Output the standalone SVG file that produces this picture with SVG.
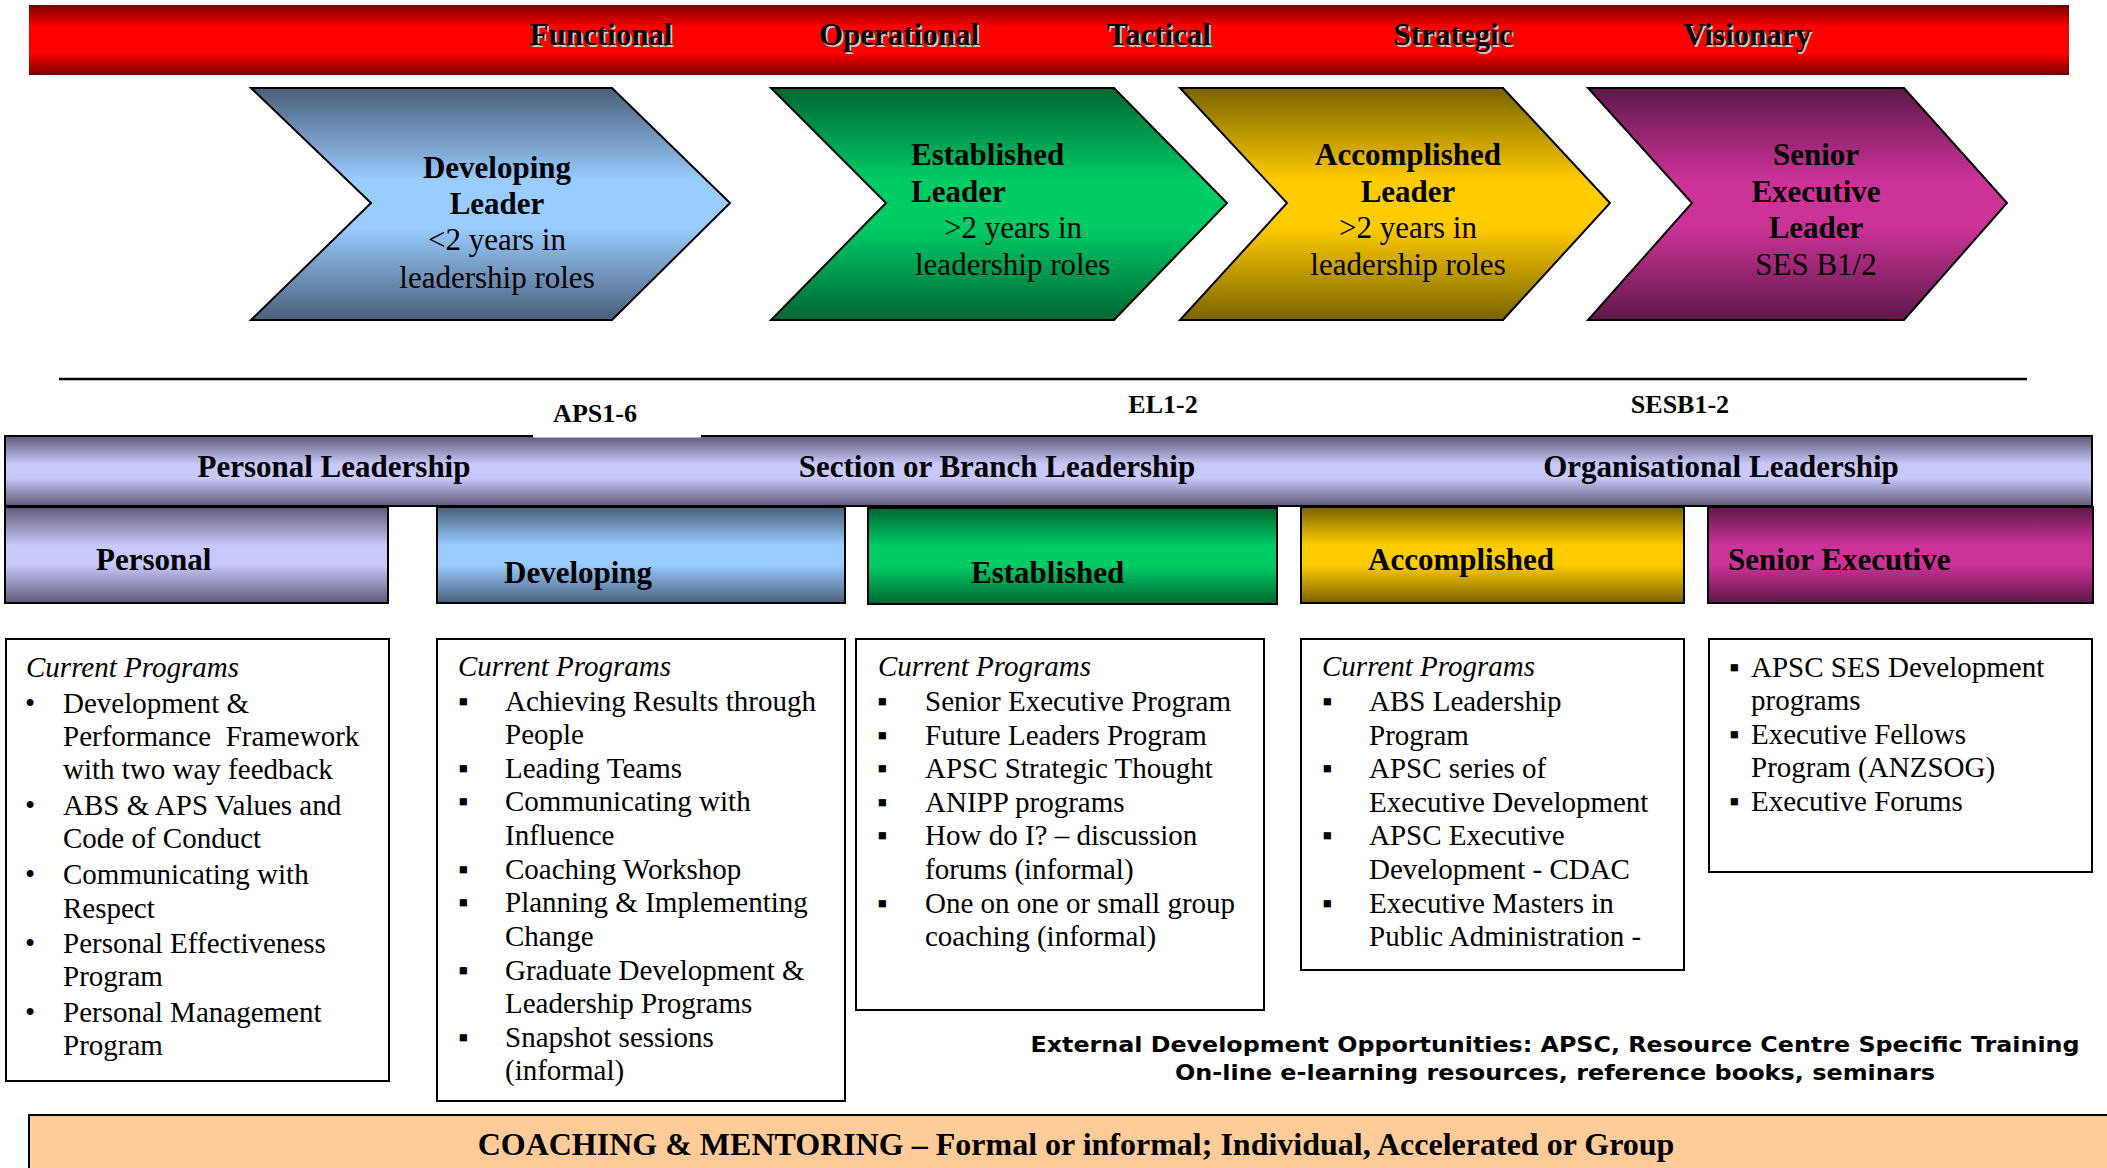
<svg xmlns="http://www.w3.org/2000/svg" width="2107" height="1168" viewBox="0 0 2107 1168">
<style>
text{font-family:"Liberation Serif","Times New Roman",serif;fill:#000}
.hd{font-size:31px;font-weight:bold;text-anchor:middle}
.hs{font-size:31px;font-weight:bold;text-anchor:middle;fill:#c8c8c8}
.cb{font-size:31px;font-weight:bold}
.cn{font-size:31px}
.mid{text-anchor:middle}
.lab{font-size:26px;font-weight:bold;text-anchor:middle}
.box{fill:#fff;stroke:#000;stroke-width:2}
.bt{font-size:29px}
.it{font-size:29px;font-style:italic}
.ext{font-family:"DejaVu Sans","Verdana",sans-serif;font-size:22px;font-weight:bold;text-anchor:middle}
.shape{stroke:#000;stroke-width:2}
</style>
<defs>
<linearGradient id="gRed" x1="0" y1="0" x2="0" y2="1"><stop offset="0" stop-color="#780000"/><stop offset="0.32" stop-color="#ff0000"/><stop offset="0.68" stop-color="#ff0000"/><stop offset="1" stop-color="#780000"/></linearGradient>
<linearGradient id="gLav" x1="0" y1="0" x2="0" y2="1"><stop offset="0" stop-color="#5e5a78"/><stop offset="0.4" stop-color="#c8c8fa"/><stop offset="0.6" stop-color="#c8c8fa"/><stop offset="1" stop-color="#5e5a78"/></linearGradient>
<linearGradient id="gBlue" x1="0" y1="0" x2="0" y2="1"><stop offset="0" stop-color="#4a5f7a"/><stop offset="0.4" stop-color="#99ccff"/><stop offset="0.6" stop-color="#99ccff"/><stop offset="1" stop-color="#4a5f7a"/></linearGradient>
<linearGradient id="gGreen" x1="0" y1="0" x2="0" y2="1"><stop offset="0" stop-color="#006633"/><stop offset="0.4" stop-color="#00cc66"/><stop offset="0.6" stop-color="#00cc66"/><stop offset="1" stop-color="#006633"/></linearGradient>
<linearGradient id="gYel" x1="0" y1="0" x2="0" y2="1"><stop offset="0" stop-color="#7a6300"/><stop offset="0.4" stop-color="#ffcc00"/><stop offset="0.6" stop-color="#ffcc00"/><stop offset="1" stop-color="#7a6300"/></linearGradient>
<linearGradient id="gMag" x1="0" y1="0" x2="0" y2="1"><stop offset="0" stop-color="#5e1848"/><stop offset="0.4" stop-color="#cc3399"/><stop offset="0.6" stop-color="#cc3399"/><stop offset="1" stop-color="#5e1848"/></linearGradient>
</defs>
<rect width="2107" height="1168" fill="#fff"/>

<g id="header-bar">
<rect x="29" y="5" width="2040" height="70" fill="url(#gRed)"/>
<text class="hs" x="603" y="47">Functional</text><text class="hd" x="601" y="45">Functional</text>
<text class="hs" x="901" y="47">Operational</text><text class="hd" x="899" y="45">Operational</text>
<text class="hs" x="1161" y="47">Tactical</text><text class="hd" x="1159" y="45">Tactical</text>
<text class="hs" x="1455" y="47">Strategic</text><text class="hd" x="1453" y="45">Strategic</text>
<text class="hs" x="1749" y="47">Visionary</text><text class="hd" x="1747" y="45">Visionary</text>
</g>

<g id="chevron-developing">
<polygon class="shape" points="251,88 612,88 730,203 612,320 251,320 371,203" fill="url(#gBlue)"/>
<text class="cb mid" x="497" y="178">Developing</text>
<text class="cb mid" x="497" y="214">Leader</text>
<text class="cn mid" x="497" y="250">&lt;2 years in</text>
<text class="cn mid" x="497" y="288">leadership roles</text>
</g>
<g id="chevron-established">
<polygon class="shape" points="771,88 1114,88 1227,203 1114,320 771,320 886,203" fill="url(#gGreen)"/>
<text class="cb" x="911" y="165">Established</text>
<text class="cb" x="911" y="202">Leader</text>
<text class="cn" x="944" y="238">&gt;2 years in</text>
<text class="cn" x="915" y="275">leadership roles</text>
</g>
<g id="chevron-accomplished">
<polygon class="shape" points="1180,88 1503,88 1610,203 1503,320 1180,320 1287,203" fill="url(#gYel)"/>
<text class="cb mid" x="1408" y="165">Accomplished</text>
<text class="cb mid" x="1408" y="202">Leader</text>
<text class="cn mid" x="1408" y="238">&gt;2 years in</text>
<text class="cn mid" x="1408" y="275">leadership roles</text>
</g>
<g id="chevron-senior">
<polygon class="shape" points="1588,88 1904,88 2007,203 1904,320 1588,320 1692,203" fill="url(#gMag)"/>
<text class="cb mid" x="1816" y="165">Senior</text>
<text class="cb mid" x="1816" y="202">Executive</text>
<text class="cb mid" x="1816" y="238">Leader</text>
<text class="cn mid" x="1816" y="275">SES B1/2</text>
</g>

<g id="divider">
<line x1="59" y1="379" x2="2027" y2="379" stroke="#000" stroke-width="2.5"/>
</g>

<g id="band">
<rect class="shape" x="5" y="436" width="2087" height="70" fill="url(#gLav)"/>
<rect x="533" y="400" width="168" height="37.5" fill="#fff"/>
<text class="lab" x="595" y="422">APS1-6</text>
<text class="lab" x="1163" y="413">EL1-2</text>
<text class="lab" x="1680" y="413">SESB1-2</text>
<text class="cb mid" x="334" y="477">Personal Leadership</text>
<text class="cb mid" x="997" y="477">Section or Branch Leadership</text>
<text class="cb mid" x="1721" y="477">Organisational Leadership</text>
</g>

<g id="level-personal">
<rect class="shape" x="5" y="507" width="383" height="96" fill="url(#gLav)"/>
<text class="cb" x="96" y="570">Personal</text>
</g>
<g id="level-developing">
<rect class="shape" x="437" y="507" width="408" height="96" fill="url(#gBlue)"/>
<text class="cb" x="504" y="583">Developing</text>
</g>
<g id="level-established">
<rect class="shape" x="868" y="508" width="409" height="96" fill="url(#gGreen)"/>
<text class="cb" x="971" y="583">Established</text>
</g>
<g id="level-accomplished">
<rect class="shape" x="1301" y="507" width="383" height="96" fill="url(#gYel)"/>
<text class="cb" x="1368" y="570">Accomplished</text>
</g>
<g id="level-senior">
<rect class="shape" x="1708" y="507" width="385" height="96" fill="url(#gMag)"/>
<text class="cb" x="1728" y="570">Senior Executive</text>
</g>

<g id="programs-personal">
<rect class="box" x="6" y="639" width="383" height="442"/>
<text class="it" x="26" y="677">Current Programs</text>
<text class="bt" x="25" y="713">•</text>
<text class="bt" x="63" y="713">Development &amp;</text>
<text class="bt" x="63" y="746">Performance&#160; Framework</text>
<text class="bt" x="63" y="779">with two way feedback</text>
<text class="bt" x="25" y="815">•</text>
<text class="bt" x="63" y="815">ABS &amp; APS Values and</text>
<text class="bt" x="63" y="848">Code of Conduct</text>
<text class="bt" x="25" y="884">•</text>
<text class="bt" x="63" y="884">Communicating with</text>
<text class="bt" x="63" y="918">Respect</text>
<text class="bt" x="25" y="953">•</text>
<text class="bt" x="63" y="953">Personal Effectiveness</text>
<text class="bt" x="63" y="986">Program</text>
<text class="bt" x="25" y="1022">•</text>
<text class="bt" x="63" y="1022">Personal Management</text>
<text class="bt" x="63" y="1055">Program</text>
</g>

<g id="programs-developing">
<rect class="box" x="437" y="639" width="408" height="462"/>
<text class="it" x="458" y="676">Current Programs</text>
<text class="bt" x="458" y="711">▪</text><text class="bt" x="505" y="711">Achieving Results through</text>
<text class="bt" x="505" y="744">People</text>
<text class="bt" x="458" y="778">▪</text><text class="bt" x="505" y="778">Leading Teams</text>
<text class="bt" x="458" y="811">▪</text><text class="bt" x="505" y="811">Communicating with</text>
<text class="bt" x="505" y="845">Influence</text>
<text class="bt" x="458" y="879">▪</text><text class="bt" x="505" y="879">Coaching Workshop</text>
<text class="bt" x="458" y="912">▪</text><text class="bt" x="505" y="912">Planning &amp; Implementing</text>
<text class="bt" x="505" y="946">Change</text>
<text class="bt" x="458" y="980">▪</text><text class="bt" x="505" y="980">Graduate Development &amp;</text>
<text class="bt" x="505" y="1013">Leadership Programs</text>
<text class="bt" x="458" y="1047">▪</text><text class="bt" x="505" y="1047">Snapshot sessions</text>
<text class="bt" x="505" y="1080">(informal)</text>
</g>

<g id="programs-established">
<rect class="box" x="856" y="639" width="408" height="371"/>
<text class="it" x="878" y="676">Current Programs</text>
<text class="bt" x="877" y="711">▪</text><text class="bt" x="925" y="711">Senior Executive Program</text>
<text class="bt" x="877" y="745">▪</text><text class="bt" x="925" y="745">Future Leaders Program</text>
<text class="bt" x="877" y="778">▪</text><text class="bt" x="925" y="778">APSC Strategic Thought</text>
<text class="bt" x="877" y="812">▪</text><text class="bt" x="925" y="812">ANIPP programs</text>
<text class="bt" x="877" y="845">▪</text><text class="bt" x="925" y="845">How do I? – discussion</text>
<text class="bt" x="925" y="879">forums (informal)</text>
<text class="bt" x="877" y="913">▪</text><text class="bt" x="925" y="913">One on one or small group</text>
<text class="bt" x="925" y="946">coaching (informal)</text>
</g>

<g id="programs-accomplished">
<rect class="box" x="1301" y="639" width="383" height="331"/>
<text class="it" x="1322" y="676">Current Programs</text>
<text class="bt" x="1322" y="711">▪</text><text class="bt" x="1369" y="711">ABS Leadership</text>
<text class="bt" x="1369" y="745">Program</text>
<text class="bt" x="1322" y="778">▪</text><text class="bt" x="1369" y="778">APSC series of</text>
<text class="bt" x="1369" y="812">Executive Development</text>
<text class="bt" x="1322" y="845">▪</text><text class="bt" x="1369" y="845">APSC Executive</text>
<text class="bt" x="1369" y="879">Development - CDAC</text>
<text class="bt" x="1322" y="913">▪</text><text class="bt" x="1369" y="913">Executive Masters in</text>
<text class="bt" x="1369" y="946">Public Administration -</text>
</g>

<g id="programs-senior">
<rect class="box" x="1709" y="639" width="383" height="233"/>
<text class="bt" x="1729" y="677">▪</text><text class="bt" x="1751" y="677">APSC SES Development</text>
<text class="bt" x="1751" y="710">programs</text>
<text class="bt" x="1729" y="744">▪</text><text class="bt" x="1751" y="744">Executive Fellows</text>
<text class="bt" x="1751" y="777">Program (ANZSOG)</text>
<text class="bt" x="1729" y="811">▪</text><text class="bt" x="1751" y="811">Executive Forums</text>
</g>

<g id="external">
<text class="ext" x="1555" y="1052" textLength="1049" lengthAdjust="spacingAndGlyphs">External Development Opportunities: APSC, Resource Centre Specific Training</text>
<text class="ext" x="1555" y="1080" textLength="760" lengthAdjust="spacingAndGlyphs">On-line e-learning resources, reference books, seminars</text>
</g>

<g id="coaching">
<rect x="29" y="1115" width="2090" height="70" fill="#ffcc99" stroke="#000" stroke-width="2"/>
<text class="cb mid" x="1076" y="1155" style="font-size:32px">COACHING &amp; MENTORING – Formal or informal; Individual, Accelerated or Group</text>
</g>
</svg>
